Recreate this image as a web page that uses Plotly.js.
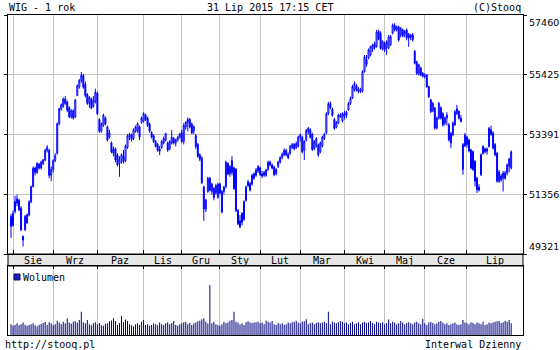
<!DOCTYPE html>
<html><head><meta charset="utf-8">
<script src="https://cdn.plot.ly/plotly-3.0.1.min.js"></script>
<style>html,body{margin:0;padding:0;background:#fff;}#chart{width:560px;height:350px;}</style>
</head><body><div id="chart"></div>
<script>
// ---- data ----
const startDate = '2014-07-31';
const endDate = '2015-07-31';
const holidays = ['2014-08-15','2014-11-11','2014-12-24','2014-12-25','2014-12-26','2014-12-31',
  '2015-01-01','2015-01-06','2015-04-03','2015-04-06','2015-05-01','2015-06-04'];
const monthLabels = ['Sie','Wrz','Paz','Lis','Gru','Sty','Lut','Mar','Kwi','Maj','Cze','Lip'];
const yTicks = [49321, 51356, 53391, 55425, 57460];

const opens = [50600,50300,50770,51050,51150,50880,49920,50150,50380,50650,
51100,51620,52250,52100,52380,52250,52400,52520,52850,52850,
52000,52200,52500,52750,53760,54250,54350,54600,54500,54300,
54000,54200,53990,54720,55000,55230,55400,55100,54750,54450,
54600,54350,54500,54800,53900,53500,53700,53950,53650,53300,
53100,52900,52900,52700,52400,52550,52650,52500,52950,53300,
53380,53250,53500,53500,53650,53800,53850,54050,53950,53750,
53450,53350,53150,53050,52900,52950,53100,53200,53100,52900,
53100,53250,53100,53200,53300,53450,53150,53650,53800,53900,
53750,53500,53350,53050,52700,52580,51600,50850,51450,51900,
51450,51550,51400,51250,51700,51450,51450,51620,52400,52050,
52100,52250,52200,50800,50450,50400,50500,51150,51650,51500,
51700,51900,52000,52150,52250,52050,52000,52000,52200,52450,
52350,52280,52050,52300,52450,52600,52700,52850,52720,52750,
52950,53050,52950,52980,53300,53300,52850,53200,53500,53550,
53400,52900,52980,53030,52800,53000,53250,53450,54100,54450,
54250,53900,53650,53780,54050,53850,54000,54150,54230,54450,
54630,54900,55050,54950,54850,54860,55530,55950,55990,56100,
56300,56480,56380,56900,56830,56300,56500,56350,56330,56450,
56840,57100,56950,57050,56780,56950,56800,56950,56800,56700,
56780,56220,55870,55450,55650,55470,55400,55420,55020,54570,
54200,54290,53610,53950,54300,54100,53780,53950,53720,53430,
53380,53720,54100,54170,53950,52200,53000,53300,53200,52870,
52200,52470,51900,51500,52020,52750,52900,52820,52980,53550,
53440,53050,52750,51800,51980,51900,52080,52080,52300,52250];

const highs = [50680,50800,51300,51340,51200,50950,49950,50650,50700,51150,
51650,52300,52300,52450,52420,52500,52560,52900,53030,52900,
52300,52550,52750,53800,54300,54450,54650,54700,54550,54350,
54250,54250,54600,55100,55280,55520,55450,55200,54800,54700,
54650,54700,54950,54850,53950,53800,54100,54000,53700,53550,
53150,52980,52950,52750,52650,52750,52860,53050,53400,53450,
53420,53600,53700,53800,53700,54000,54150,54100,54000,53800,
53500,53400,53200,53100,53000,53200,53320,53450,53150,53200,
53540,53300,53250,53350,53450,53550,53780,53850,53970,53950,
53800,53700,53400,53100,52750,52650,51650,51200,51950,51950,
51750,51600,51700,51750,51750,51500,51650,52500,52450,52350,
52650,52300,52250,50850,50650,50750,51150,51650,51850,51780,
52050,52100,52250,52350,52300,52150,52150,52220,52500,52500,
52400,52330,52250,52500,52650,52780,52920,52900,52780,53030,
53100,53100,53150,53350,53430,53350,53200,53580,53650,53600,
53450,53200,53300,53080,53150,53350,53450,54150,54500,54520,
54300,53950,53850,54100,54120,54150,54200,54200,54500,54680,
55080,55200,55100,55000,54980,55580,56100,56100,56320,56420,
56480,56550,56950,56960,56900,56600,56550,56600,56780,56780,
57170,57180,57100,57100,57050,57000,56950,57000,56850,56820,
56850,56270,55900,55800,55700,55520,55480,55450,55050,54600,
54500,54330,54000,54500,54350,54150,54000,54150,53780,53480,
53830,54220,54400,54220,54050,53100,53440,53350,53250,52900,
52850,52520,51950,51700,52750,53030,52950,52950,53650,53700,
53500,53100,52800,52180,52050,52150,52150,52400,52600,52850];

const lows = [49870,50250,50700,50950,50780,50100,49580,50100,50350,50600,
51050,51580,52000,52050,52200,52200,52350,52480,52780,51900,
51800,52100,52450,52700,53700,54200,54300,54400,54150,53950,
53930,53900,53950,54700,54950,55150,54950,54650,54400,54300,
54250,54300,54450,54050,53450,53450,53650,53700,53150,53250,
52750,52650,52450,52300,51950,52400,52400,52450,52900,53200,
53150,53200,53450,53450,53200,53750,53800,53850,53650,53450,
53250,53100,52950,52800,52690,52900,53050,53150,52800,52850,
53050,53050,52980,53150,53250,53100,53050,53550,53500,53600,
53400,53400,52900,52600,52480,51700,50450,50750,51400,51450,
51350,51150,51350,51200,51350,50700,51350,51550,52000,51950,
52000,51500,50750,50300,50200,50300,50450,51100,51600,51450,
51650,51850,51950,52080,51980,51900,51950,51950,52150,52300,
52200,51970,52000,52250,52400,52550,52650,52650,52550,52700,
52900,52850,52900,52950,53150,52750,52520,53150,53400,53250,
52830,52850,52950,52630,52750,52950,53200,53400,54050,54250,
54000,53550,53600,53750,53950,53800,53900,53950,54200,54400,
54600,54850,54850,54800,54800,54820,55500,55700,55950,56050,
56200,56280,56350,56600,56280,56250,56200,56100,56300,56400,
56800,56900,56900,56550,56700,56700,56700,56600,56380,56600,
56550,55780,55420,55400,55380,55330,55300,54980,54630,54120,
54150,53560,53560,53900,53900,53660,53700,53700,53150,52930,
53330,53680,54050,53900,53800,52020,52960,52950,52780,52200,
52150,51620,51400,51450,51980,52700,52750,52700,52950,53350,
52880,52650,51750,51740,51780,51450,51850,52000,52100,52200];

const closes = [50260,50700,51110,51200,50830,50150,49800,50600,50650,51100,
51620,52240,52100,52400,52250,52450,52520,52850,52950,52000,
52200,52500,52680,53760,54270,54400,54600,54450,54220,53990,
54200,53950,54560,55050,55230,55400,55000,54720,54450,54650,
54300,54550,54830,54100,53500,53750,54050,53750,53200,53450,
52800,52750,52520,52350,52550,52700,52450,53000,53350,53400,
53220,53550,53650,53760,53300,53950,54100,53900,53700,53500,
53300,53150,52980,52850,52820,53150,53250,53420,52860,53150,
53300,53100,53200,53300,53400,53150,53700,53800,53900,53650,
53450,53650,52980,52650,52550,51750,50850,51150,51900,51500,
51700,51250,51650,51700,51400,50750,51600,52450,52050,52300,
52500,51550,50800,50350,50250,50700,51100,51600,51780,51720,
52000,52050,52180,52300,52030,51980,52100,52180,52450,52350,
52250,52020,52200,52450,52600,52720,52850,52700,52600,52980,
53050,52900,53080,53300,53370,52800,53150,53530,53600,53300,
52880,53150,53250,52700,53100,53300,53400,54100,54440,54300,
54050,53600,53800,54050,54000,54100,54100,54050,54450,54620,
55020,55130,54900,54850,54900,55530,56040,55780,56270,56380,
56440,56350,56890,56650,56330,56550,56280,56550,56720,56720,
57120,56950,57060,56610,57000,56750,56900,56680,56680,56780,
56620,55820,55480,55760,55420,55380,55360,55020,54680,54170,
54450,53610,53950,54450,53950,53720,53950,54050,53210,53100,
53780,54170,54270,53950,53830,53050,53380,53050,52830,52250,
52810,51800,51510,51600,52700,52980,52800,52900,53600,53400,
52930,52700,51800,52120,51850,52080,51900,52360,52550,52800];

const volumes = [760,650,700,820,690,760,880,720,640,700,
750,820,690,610,720,770,840,930,700,900,
820,680,760,1000,870,760,930,820,1150,880,
790,930,980,860,1050,1630,900,820,1050,760,
690,820,900,760,840,690,640,780,820,960,
1020,1170,980,700,840,1330,900,1080,980,760,
690,620,760,830,700,920,1050,700,760,640,
700,820,760,690,880,760,700,820,900,760,
840,980,700,650,760,820,900,930,760,840,
700,820,880,960,1000,1100,1170,930,800,3500,
820,930,760,700,640,760,930,820,880,1000,
1050,1630,930,880,760,820,700,900,960,880,
840,880,900,930,820,880,760,1000,930,880,
980,760,700,840,760,820,700,760,880,820,
900,930,1000,880,820,930,960,1100,760,820,
880,760,840,900,820,880,930,840,1630,760,
930,880,820,900,980,930,820,880,760,840,
930,760,820,900,760,880,930,840,880,980,
840,760,930,880,820,900,760,840,1080,820,
930,880,760,820,980,880,760,840,900,820,
760,880,930,820,760,1120,820,700,880,930,
840,760,820,930,980,880,760,820,700,760,
820,880,760,700,760,1050,880,820,760,900,
840,760,880,820,760,930,700,760,880,820,
880,930,960,980,840,900,1000,930,1050,820];

// ---- trading days (calendar without weekends and exchange holidays) ----
function tradingDays() {
  const out = [];
  let d = new Date(startDate + 'T12:00:00Z');
  const end = new Date(endDate + 'T12:00:00Z');
  while (d <= end) {
    const dow = d.getUTCDay();
    const s = d.toISOString().slice(0, 10);
    if (dow !== 0 && dow !== 6 && holidays.indexOf(s) < 0) out.push(s);
    d = new Date(d.getTime() + 86400000);
  }
  return out;
}
const days = tradingDays();
const xIdx = closes.map((_, i) => i);
const monthStarts = [];
for (let i = 1; i < days.length; i++) {
  if (days[i].slice(5, 7) !== days[i - 1].slice(5, 7)) monthStarts.push(i);
}

// ---- geometry ----
const L = 8, R = 523, T = 15, B = 335;
const xRange = [-1.5, 254.9];
const px = p => (p - L) / (R - L);
const py = p => (B - p) / (B - T);
const mono = {family: 'DejaVu Sans Mono', size: 10, color: '#000'};
const tickFont = {family: 'DejaVu Sans', size: 9.5, color: '#000'};
const grid = '#c4c4c4';

const annotations = [];
annotations.push({xref:'paper', yref:'paper', x:px(7), y:py(7), xanchor:'left', yanchor:'middle', text:'WIG - 1 rok', showarrow:false, font:mono});
annotations.push({xref:'paper', yref:'paper', x:px(270), y:py(7), xanchor:'center', yanchor:'middle', text:'31 Lip 2015 17:15 CET', showarrow:false, font:mono});
annotations.push({xref:'paper', yref:'paper', x:1, y:py(7), xanchor:'right', yanchor:'middle', text:'(C)Stooq', showarrow:false, font:mono});
annotations.push({xref:'paper', yref:'paper', x:px(3), y:py(344), xanchor:'left', yanchor:'middle', text:'http://stooq.pl', showarrow:false, font:mono});
annotations.push({xref:'paper', yref:'paper', x:1, y:py(344), xanchor:'right', yanchor:'middle', text:'Interwal Dzienny', showarrow:false, font:mono});
annotations.push({xref:'paper', yref:'paper', x:px(21), y:py(277), xanchor:'left', yanchor:'middle', text:'Wolumen', showarrow:false, font:mono});
const yMin = Math.min(...yTicks), yMax = Math.max(...yTicks);
yTicks.forEach(v => {
  annotations.push({xref:'paper', yref:'y', x:px(527), y:v, xanchor:'left', yanchor:'middle',
    yshift: v === yMax ? -7 : (v === yMin ? 8 : 0), text:String(v), showarrow:false, font:tickFont});
});
monthLabels.forEach((m, i) => {
  const s = monthStarts[i];
  const e = i + 1 < monthStarts.length ? monthStarts[i + 1] : xRange[1];
  annotations.push({xref:'x', yref:'paper', x:(s + e) / 2, y:py(260.5), xanchor:'center', yanchor:'middle',
    text:m, showarrow:false, font:mono});
});

const traces = [
  {type:'candlestick', x:xIdx, open:opens, high:highs, low:lows, close:closes,
   xaxis:'x', yaxis:'y', whiskerwidth:0, hoverinfo:'none',
   increasing:{line:{color:'#0000ff', width:1}, fillcolor:'#ffffff'},
   decreasing:{line:{color:'#0000ff', width:1}, fillcolor:'#0000ff'}},
  {type:'bar', x:xIdx, y:volumes, xaxis:'x2', yaxis:'y2', width:0.5,
   marker:{color:'#000080', line:{width:0}}, hoverinfo:'none'}
];

const layout = {
  width:560, height:350, margin:{l:L, r:560 - R, t:T, b:350 - B, pad:0},
  paper_bgcolor:'#ffffff', plot_bgcolor:'#ffffff', showlegend:false,
  xaxis:{domain:[0,1], range:xRange, anchor:'y', tickvals:monthStarts, showticklabels:false,
    ticks:'inside', ticklen:4, tickcolor:'#000', tickwidth:1, showgrid:true, gridcolor:grid, gridwidth:1,
    showline:true, linecolor:'#000', linewidth:1, mirror:true, zeroline:false, fixedrange:true,
    rangeslider:{visible:false}},
  yaxis:{domain:[py(254), 1], range:[yMin, yMax], side:'right', anchor:'x', tickvals:yTicks, showticklabels:false,
    ticks:'outside', ticklen:3, tickcolor:'#000', mirror:'ticks', showline:true, linecolor:'#000', linewidth:1,
    showgrid:true, gridcolor:grid, gridwidth:1, zeroline:false, fixedrange:true},
  xaxis2:{domain:[0,1], range:xRange, anchor:'y2', side:'top', tickvals:monthStarts, showticklabels:false,
    ticks:'inside', ticklen:3, tickcolor:'#000', showgrid:true, gridcolor:grid, gridwidth:1,
    showline:true, linecolor:'#000', linewidth:1, mirror:true, zeroline:false, fixedrange:true},
  yaxis2:{domain:[0, py(266)], range:[0, 4830], anchor:'x2', showticklabels:false, ticks:'', showgrid:false,
    showline:true, linecolor:'#000', linewidth:1, mirror:true, zeroline:false, fixedrange:true},
  shapes:[
    {type:'rect', xref:'paper', yref:'paper', x0:0, x1:1, y0:py(266), y1:py(254),
     fillcolor:'#e6e6e6', line:{color:'#000', width:1}, layer:'below'},
    {type:'rect', xref:'paper', yref:'paper', x0:px(14), x1:px(20), y0:py(280), y1:py(274),
     fillcolor:'#1c1cc0', line:{color:'#10106a', width:1}}
  ],
  annotations:annotations
};

Plotly.newPlot('chart', traces, layout, {staticPlot:true, displayModeBar:false});
</script>
</body></html>
